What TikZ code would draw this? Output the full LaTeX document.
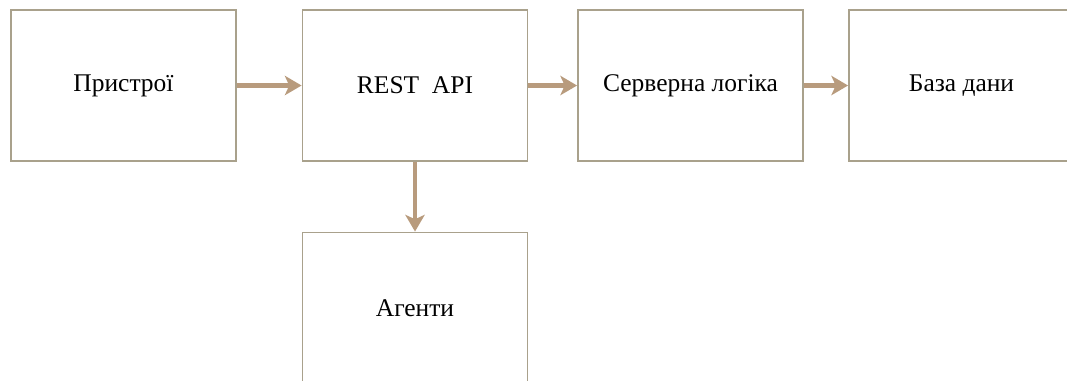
\documentclass[tikz,border=0pt]{standalone}
\usepackage{fontspec}
\setmainfont{Liberation Serif}
\usepackage{tikz}
\usetikzlibrary{arrows.meta, positioning}
\definecolor{boxline}{HTML}{A9A18C}
\definecolor{flowtan}{HTML}{B89B7D}

\begin{document}
\begin{tikzpicture}[
    x=0.02cm, y=-0.02cm,
    every node/.style={font=\fontsize{14.5}{16}\selectfont},
    block/.style={draw=boxline, line width=1.1pt, fill=white, minimum width=4.5cm, minimum height=3.02cm, align=center, inner sep=0pt},
    flow/.style={-{Stealth[length=9.5pt, width=11pt, inset=2.5pt]}, draw=flowtan, line width=2.3pt}
]
    \useasboundingbox (0,0) rectangle (1067,380);
    \clip (0,0) rectangle (1067,380);

    % Boxes
    \node[block] (devices) at (123.5, 85.5) {Пристрої};
    \node[block] (api) at (415, 85.5) {REST\ \ API};
    \node[block] (logic) at (690.5, 85.5) {Серверна логіка};
    \node[block] (db) at (961.5, 85.5) {База дани};
    \node[block] (agents) at (415, 308) {Агенти};

    % Arrows
    \draw[flow] (devices) -- (api);
    \draw[flow] (api) -- (logic);
    \draw[flow] (logic) -- (db);
    \draw[flow] (api) -- (agents);
\end{tikzpicture}
\end{document}
